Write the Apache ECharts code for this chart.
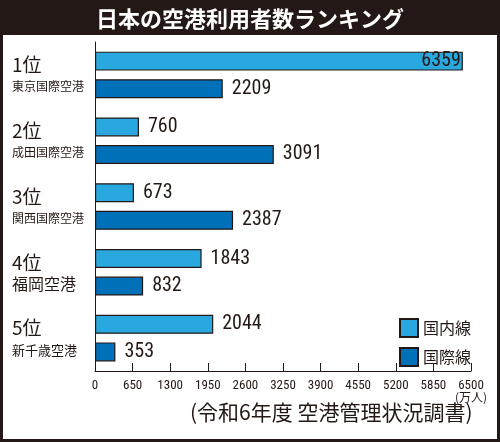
<!DOCTYPE html>
<html>
<head>
    <meta charset="utf-8">
    <title>日本の空港利用者数ランキング</title>
    <script src="https://cdn.jsdelivr.net/npm/echarts@6/dist/echarts.min.js"></script>
</head>
<body style="margin: 0; background: #fff;">
    <div id="chartContainer" style="width: 500px; height: 442px;"></div>
    <script type="text/javascript">
        var ranks = ['1位', '2位', '3位', '4位', '5位'];
        var airports = ['東京国際空港', '成田国際空港', '関西国際空港', '福岡空港', '新千歳空港'];
        var domestic = [6359, 760, 673, 1843, 2044];       // 国内線
        var international = [2209, 3091, 2387, 832, 353];  // 国際線
        var xTicks = { min: 0, max: 6500, interval: 650 };

        var jp = '"Noto Sans CJK JP", sans-serif';
        var num = '"Liberation Sans Narrow", "Roboto Condensed", sans-serif';
        var ink = '#231815';

        var dom = document.getElementById('chartContainer');
        var myChart = echarts.init(dom);

        // 福岡 and 新千歳 are set a bit larger in the source
        var nameStyle = ['n', 'n', 'n', 'b', 'm'];

        var option = {
            animation: false,
            backgroundColor: '#fff',
            title: {
                text: '日本の空港利用者数ランキング',
                left: 'center',
                top: 3,
                textStyle: { color: '#fff', fontSize: 22, fontWeight: 'bold', fontFamily: jp }
            },
            graphic: [
                { type: 'rect', z: -1, shape: { x: 0, y: 0, width: 500, height: 35 }, style: { fill: ink } },
                { type: 'rect', z: 100, shape: { x: 1.5, y: 1.5, width: 497, height: 439 },
                  style: { fill: 'none', stroke: ink, lineWidth: 3 } },
                { type: 'text', left: 455, top: 391,
                  style: { text: '(万人)', fontSize: 12, fontFamily: jp, fill: ink } },
                { type: 'text', left: 190, top: 402,
                  style: { text: '(令和6年度 空港管理状況調書)', fontSize: 21, fontFamily: jp, fill: ink } }
            ],
            legend: {
                orient: 'vertical',
                left: 394,
                top: 313,
                icon: 'rect',
                itemWidth: 18,
                itemHeight: 18,
                itemGap: 9,
                textStyle: { fontSize: 16, lineHeight: 18, fontFamily: jp, color: ink }
            },
            grid: { left: 95, right: 29, top: 42, bottom: 71 },
            xAxis: {
                type: 'value',
                min: xTicks.min,
                max: xTicks.max,
                interval: xTicks.interval,
                splitLine: { show: false },
                axisLine: { show: true, lineStyle: { color: ink, width: 1 } },
                axisTick: { show: true, inside: true, length: 8, lineStyle: { color: ink } },
                axisLabel: {
                    fontSize: 13, fontFamily: num, color: ink, margin: 8,
                    formatter: function (v) { return String(v); }
                }
            },
            yAxis: {
                type: 'category',
                inverse: true,
                data: ranks,
                axisLine: { show: true, lineStyle: { color: ink, width: 1 } },
                axisTick: { show: false },
                axisLabel: {
                    align: 'left',
                    margin: 83,
                    formatter: function (v, i) {
                        return '{r|' + v + '}\n{' + nameStyle[i] + '|' + airports[i] + '}';
                    },
                    rich: {
                        r: { fontSize: 19, fontFamily: jp, color: ink, lineHeight: 24 },
                        n: { fontSize: 12, fontFamily: jp, color: ink, lineHeight: 20 },
                        m: { fontSize: 13, fontFamily: jp, color: ink, lineHeight: 20 },
                        b: { fontSize: 16, fontFamily: jp, color: ink, lineHeight: 20 }
                    }
                }
            },
            series: [
                {
                    name: '国内線',
                    type: 'bar',
                    data: domestic.map(function (v, i) {
                        return i === 0 ? { value: v, label: { position: 'insideRight', distance: 2 } } : v;
                    }),
                    barWidth: 19,
                    barGap: '45%',
                    itemStyle: { color: '#29a8e0', borderColor: ink, borderWidth: 1.2 },
                    label: { show: true, position: 'right', distance: 9, fontSize: 20, fontFamily: num, color: ink }
                },
                {
                    name: '国際線',
                    type: 'bar',
                    data: international,
                    barWidth: 19,
                    itemStyle: { color: '#0070b8', borderColor: ink, borderWidth: 1.2 },
                    label: { show: true, position: 'right', distance: 9, fontSize: 20, fontFamily: num, color: ink }
                }
            ]
        };

        myChart.setOption(option);
    </script>
</body>
</html>
